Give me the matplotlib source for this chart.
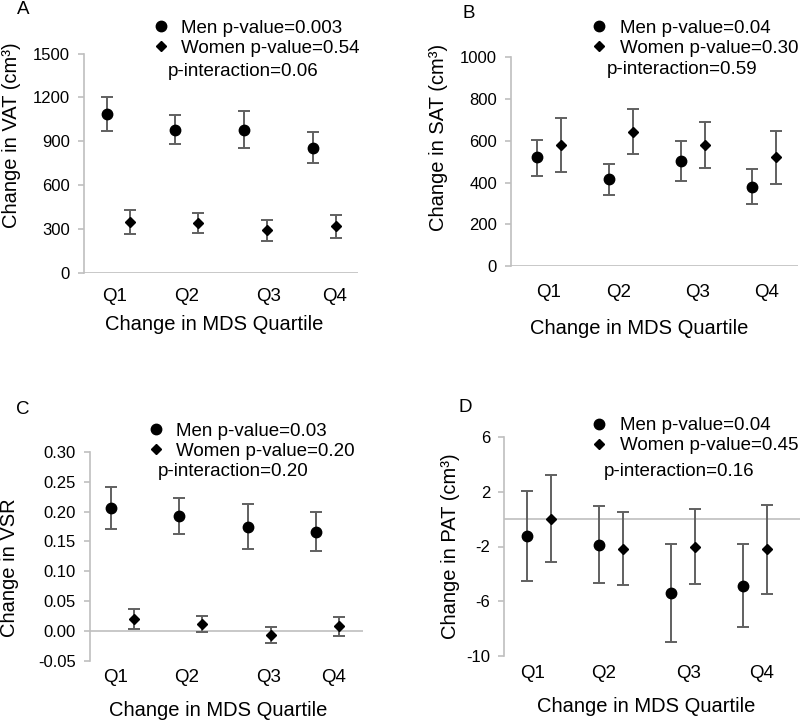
import matplotlib
matplotlib.use("Agg")
import matplotlib.pyplot as plt
import matplotlib.transforms as mtransforms
from matplotlib.lines import Line2D
import numpy as np

plt.rcParams["font.family"] = ["Liberation Sans", "DejaVu Sans"]

quartiles = ["Q1", "Q2", "Q3", "Q4"]

# panel A - VAT
vat_men = [1088, 978, 978, 854]
vat_men_lo = [973, 884, 856, 751]
vat_men_hi = [1202, 1079, 1106, 964]
vat_women = [350, 341, 291, 321]
vat_women_lo = [268, 275, 220, 240]
vat_women_hi = [428, 408, 360, 398]

# panel B - SAT
sat_men = [520, 415, 503, 380]
sat_men_lo = [431, 340, 407, 298]
sat_men_hi = [606, 488, 600, 463]
sat_women = [579, 643, 579, 520]
sat_women_lo = [452, 536, 471, 393]
sat_women_hi = [707, 750, 691, 649]

# panel C - VSR
vsr_men = [0.206, 0.192, 0.174, 0.166]
vsr_men_lo = [0.171, 0.162, 0.137, 0.134]
vsr_men_hi = [0.241, 0.223, 0.213, 0.199]
vsr_women = [0.021, 0.012, -0.006, 0.008]
vsr_women_lo = [0.004, -0.002, -0.020, -0.009]
vsr_women_hi = [0.037, 0.026, 0.007, 0.023]

# panel D - PAT
pat_men = [-1.22, -1.86, -5.42, -4.89]
pat_men_lo = [-4.54, -4.71, -8.99, -7.89]
pat_men_hi = [2.08, 0.98, -1.83, -1.83]
pat_women = [0.05, -2.17, -2.03, -2.20]
pat_women_lo = [-3.15, -4.84, -4.74, -5.45]
pat_women_hi = [3.27, 0.51, 0.73, 1.05]

W, H = 800, 721
fig = plt.figure(figsize=(W / 100, H / 100), dpi=100)

GRAY = "#bfbfbf"
ERR = "#606060"


def px(x, y):
    return x / W, 1 - y / H


panels = [
    dict(letter="A", box=(84, 53.5, 358, 272.7), xlim=(0.670, 4.658),
         ylim=(0, 1500), yticks=[0, 300, 600, 900, 1200, 1500], fmt="{:.0f}",
         men=(vat_men, vat_men_lo, vat_men_hi), women=(vat_women, vat_women_lo, vat_women_hi),
         ylabel="Change in VAT (cm³)", ylab_pos=(12, 135),
         qx=[1.11, 2.16, 3.355, 4.31], qy=296, xlab_pos=(214, 325),
         letter_pos=(23, 9),
         labels=["Men p-value=0.003", "Women p-value=0.54"], pint="p-interaction=0.06",
         leg=(151.6, 19.5), pint_pos=(168, 71)),
    dict(letter="B", box=(511, 57.3, 798, 266), xlim=(0.633, 4.636),
         ylim=(0, 1000), yticks=[0, 200, 400, 600, 800, 1000], fmt="{:.0f}",
         men=(sat_men, sat_men_lo, sat_men_hi), women=(sat_women, sat_women_lo, sat_women_hi),
         ylabel="Change in SAT (cm³)", ylab_pos=(439, 137),
         qx=[1.15, 2.14, 3.23, 4.20], qy=292.7, xlab_pos=(639, 328),
         letter_pos=(469, 14),
         labels=["Men p-value=0.04", "Women p-value=0.30"], pint="p-interaction=0.59",
         leg=(590, 19.5), pint_pos=(607, 70)),
    dict(letter="C", box=(90, 451.7, 363, 661), xlim=(0.693, 4.684),
         ylim=(-0.05, 0.30), yticks=[-0.05, 0, 0.05, 0.10, 0.15, 0.20, 0.25, 0.30], fmt="{:.2f}",
         men=(vsr_men, vsr_men_lo, vsr_men_hi), women=(vsr_women, vsr_women_lo, vsr_women_hi),
         ylabel="Change in VSR", ylab_pos=(10, 568),
         qx=[1.06, 2.11, 3.30, 4.26], qy=678, xlab_pos=(218, 710),
         letter_pos=(23, 410),
         labels=["Men p-value=0.03", "Women p-value=0.20"], pint="p-interaction=0.20",
         leg=(146.6, 422.5), pint_pos=(157.7, 471.7)),
    dict(letter="D", box=(504, 437.3, 800, 655.7), xlim=(0.676, 4.793),
         ylim=(-10, 6), yticks=[-10, -6, -2, 2, 6], fmt="{:.0f}",
         men=(pat_men, pat_men_lo, pat_men_hi), women=(pat_women, pat_women_lo, pat_women_hi),
         ylabel="Change in PAT (cm³)", ylab_pos=(451, 546),
         qx=[1.08, 2.06, 3.24, 4.26], qy=674, xlab_pos=(646, 707),
         letter_pos=(465, 407),
         labels=["Men p-value=0.04", "Women p-value=0.45"], pint="p-interaction=0.16",
         leg=(590, 417), pint_pos=(604, 471.7)),
]

x = np.arange(1, 5)
offset = 0.335

for p in panels:
    l, t, r, b = p["box"]
    ax = fig.add_axes([l / W, 1 - b / H, (r - l) / W, (b - t) / H])
    ax.set_xlim(*p["xlim"])
    ax.set_ylim(*p["ylim"])
    for s in ["top", "right", "bottom"]:
        ax.spines[s].set_visible(False)
    ax.spines["left"].set_color(GRAY)
    ax.spines["left"].set_linewidth(1.2)
    ax.axhline(0, color=GRAY, lw=1.2, zorder=1)
    ax.set_xticks([])
    ax.set_yticks(p["yticks"])
    ax.set_yticklabels([p["fmt"].format(v) for v in p["yticks"]])
    ax.tick_params(axis="y", direction="out", length=4, width=1.2, color=GRAY,
                   labelsize=12, pad=6)
    ax.patch.set_visible(False)

    m, mlo, mhi = [np.array(a) for a in p["men"]]
    w, wlo, whi = [np.array(a) for a in p["women"]]
    ax.errorbar(x, m, yerr=[m - mlo, mhi - m], fmt="none", ecolor=ERR,
                elinewidth=1.4, capsize=4, capthick=1.4, zorder=2)
    ax.errorbar(x + offset, w, yerr=[w - wlo, whi - w], fmt="none", ecolor=ERR,
                elinewidth=1.4, capsize=4, capthick=1.4, zorder=2)
    ax.plot(x, m, "o", color="black", ms=7.5, zorder=3, clip_on=False)
    ax.plot(x + offset, w, "D", color="black", ms=5.2, zorder=3, clip_on=False)

    trans = mtransforms.blended_transform_factory(ax.transData, fig.transFigure)
    for qx, q in zip(p["qx"], quartiles):
        ax.text(qx, 1 - p["qy"] / H, q, transform=trans, ha="center", va="center",
                fontsize=13.5)

    fig.text(*px(*p["xlab_pos"]), "Change in MDS Quartile", ha="center",
             va="center", fontsize=14.5)
    fig.text(*px(*p["ylab_pos"]), p["ylabel"], ha="center", va="center",
             rotation=90, fontsize=14.5)
    fig.text(*px(*p["letter_pos"]), p["letter"], ha="center", va="center",
             fontsize=13.5)

    handles = [Line2D([], [], marker="o", color="black", ls="none", ms=7.5),
               Line2D([], [], marker="D", color="black", ls="none", ms=5.2)]
    fig.legend(handles, p["labels"], loc="upper left", bbox_to_anchor=px(*p["leg"]),
               bbox_transform=fig.transFigure, frameon=False, fontsize=13.5,
               borderpad=0, borderaxespad=0, handlelength=1.0,
               handletextpad=0.59, labelspacing=0.15)
    fig.text(*px(*p["pint_pos"]), p["pint"], ha="left", va="center", fontsize=13.5)

fig.savefig("out.png", dpi=100)
